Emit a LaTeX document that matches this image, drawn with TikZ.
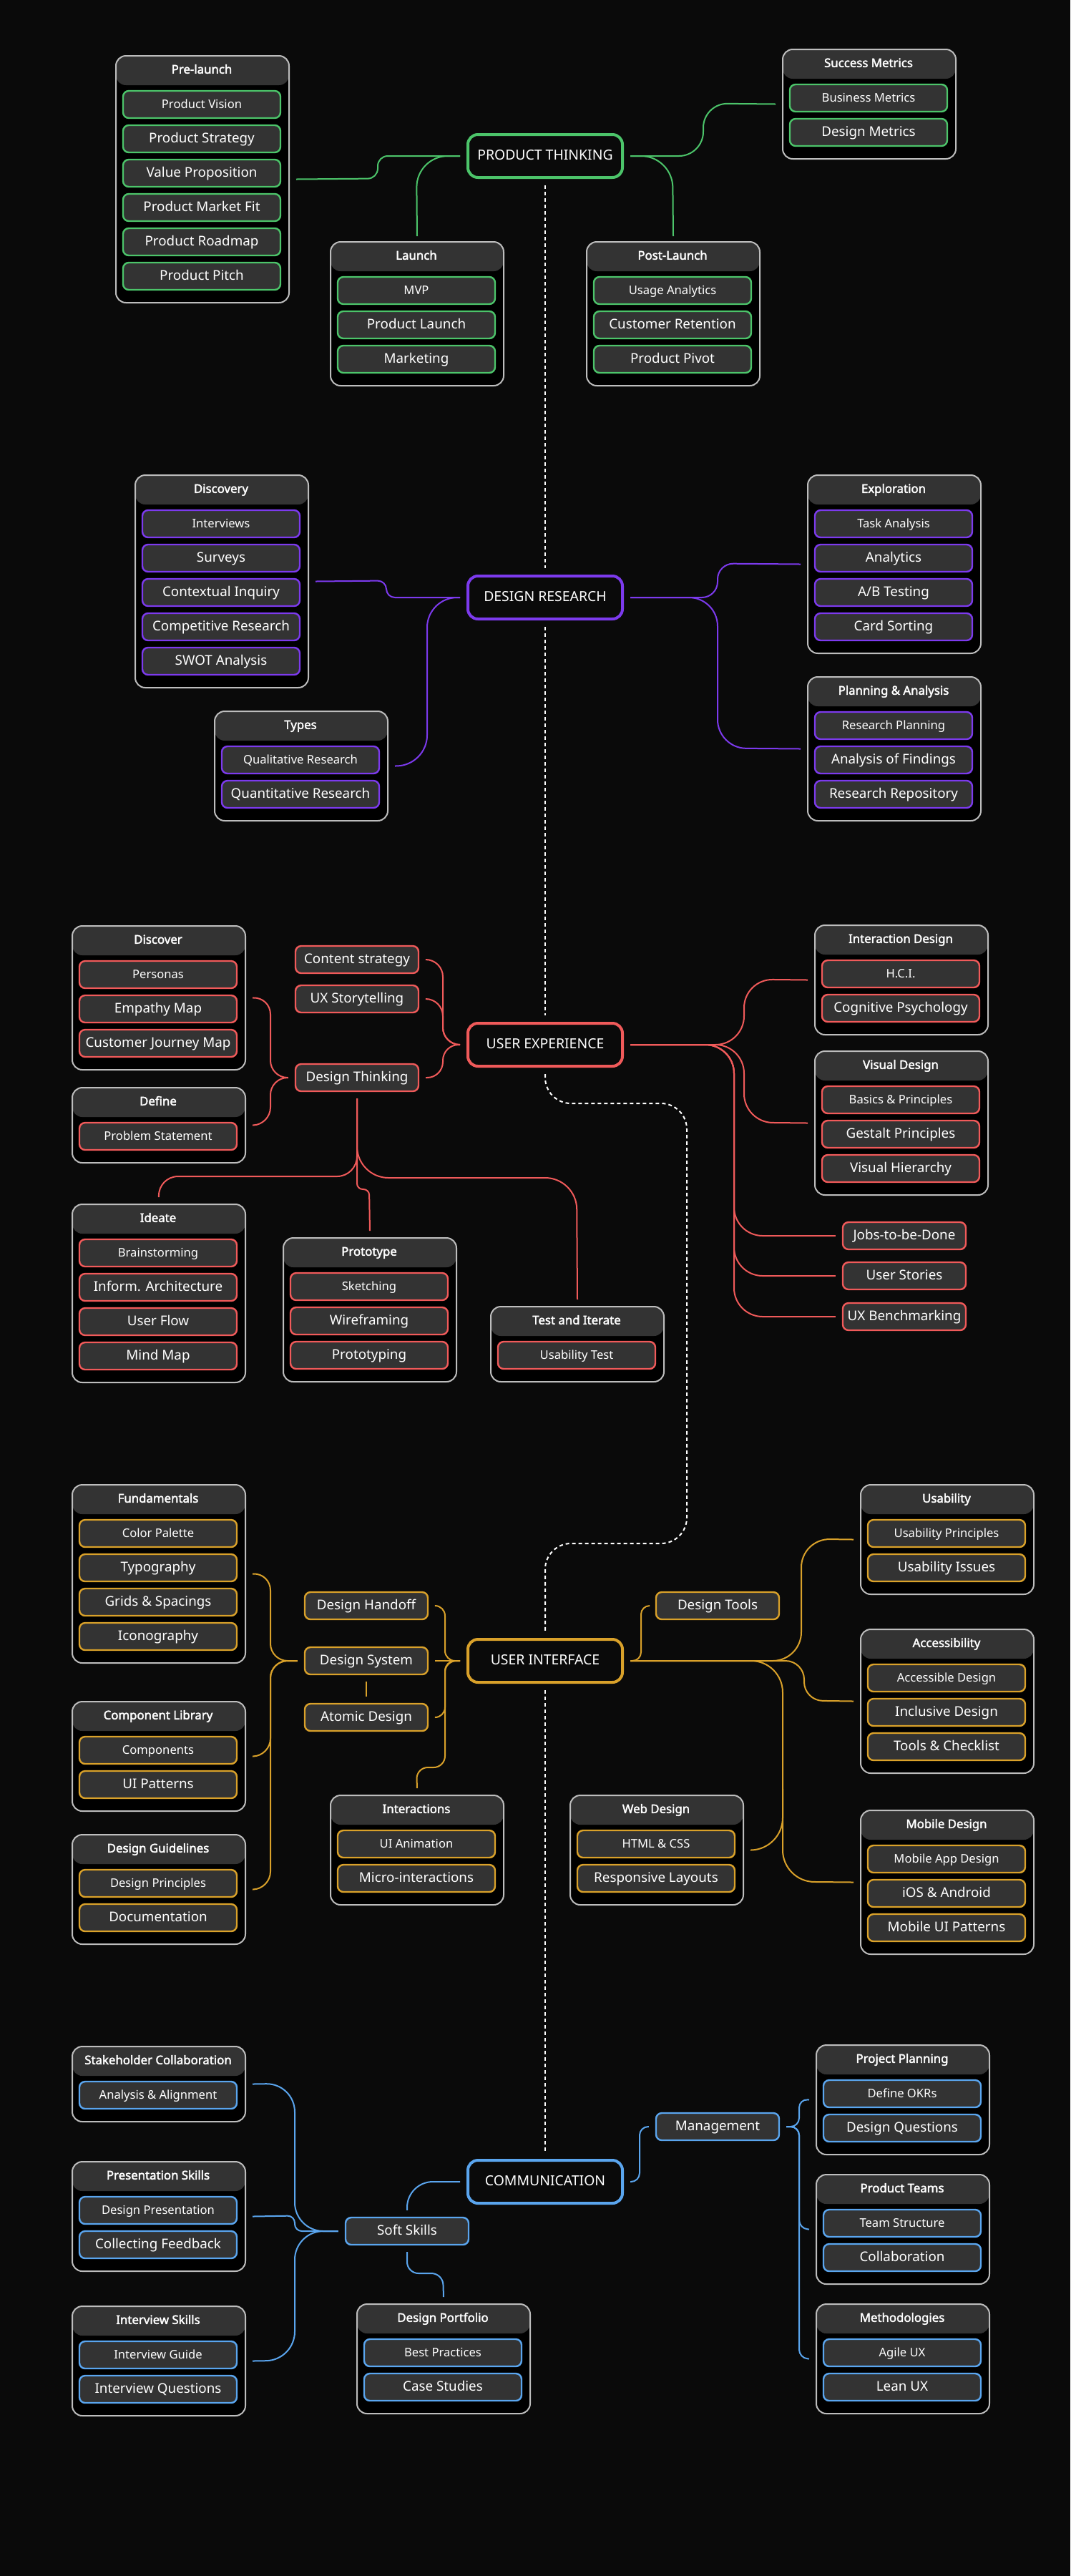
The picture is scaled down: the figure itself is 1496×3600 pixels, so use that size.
\documentclass[tikz,border=0pt]{standalone}
\usepackage{fontspec}
\setmainfont{Noto Sans}
\newfontfamily\tfont{Noto Sans}[FakeBold=2.2]
\definecolor{bgc}{HTML}{0A0A0A}
\definecolor{headc}{HTML}{333333}
\definecolor{itemc}{HTML}{333333}
\definecolor{cardline}{HTML}{BDBDBD}
\definecolor{cgreen}{HTML}{4CC46A}
\definecolor{cpurple}{HTML}{7C3AED}
\definecolor{cred}{HTML}{F05A5A}
\definecolor{cgold}{HTML}{D9A12A}
\definecolor{cblue}{HTML}{5AA5EE}
\tikzset{
  cardbox/.style={rectangle, rounded corners=7pt, draw=cardline, line width=1pt, fill=black, minimum width=121pt, inner sep=0pt,
    path picture={\fill[headc] (path picture bounding box.north west) rectangle ([yshift=-20.5pt]path picture bounding box.north east);}},
  cardtitle/.style={text=white, font=\tfont\fontsize{8.4}{9}\selectfont, inner sep=0pt, text height=0.75em, text depth=0.22em},
  itembox/.style={rectangle, rounded corners=4pt, draw=#1, line width=1.2pt, fill=itemc, minimum width=110pt, minimum height=19pt, inner sep=0pt, text=white, text height=0.75em, text depth=0.22em},
  smallf/.style={font=\fontsize{8.3}{9}\selectfont},
  largef/.style={font=\fontsize{9.4}{10}\selectfont},
  solo/.style={rectangle, rounded corners=4pt, draw=#1, line width=1.2pt, fill=itemc, minimum width=86pt, minimum height=19pt, inner sep=0pt, text=white, font=\fontsize{9.4}{10}\selectfont, text height=0.75em, text depth=0.22em},
  mainnode/.style={rectangle, rounded corners=7pt, draw=#1, line width=2pt, fill=bgc, minimum width=108pt, minimum height=30pt, inner sep=0pt, text=white, font=\fontsize{9.7}{11}\selectfont, text height=0.75em, text depth=0.22em},
  conn/.style={draw=#1, line width=1pt},
  spine/.style={draw=white, line width=1pt, dash pattern=on 2.5pt off 2pt},
}
% name, left, top, n items, colour, title, items
\newcommand\mkcard[7]{%
  \pgfmathsetmacro\cardh{(57+48*#4)*0.5}%
  \node[cardbox, minimum height=\cardh pt, anchor=north west] (#1) at (#2,#3) {};%
  \node[cardtitle] (#1-t) at (#2+121,#3+20.5) {#6};%
  \foreach [count=\i] \sz/\txt in {#7} {%
    \pgfmathsetmacro\iy{#3+69+48*(\i-1)}%
    \node[itembox=#5, \sz] (#1-\i) at (#2+121,\iy) {\txt};%
  }%
}
\begin{document}
\begin{tikzpicture}[x=0.5pt,y=-0.5pt]
\useasboundingbox (0,0) rectangle (1496,3600);
\fill[bgc] (0,0) rectangle (1496,3600);

% ---------- main nodes
\node[mainnode=cgreen] (pt) at (762,218) {PRODUCT THINKING};
\node[mainnode=cpurple] (dr) at (762,835) {DESIGN RESEARCH};
\node[mainnode=cred] (ux) at (762,1460) {USER EXPERIENCE};
\node[mainnode=cgold] (ui) at (762,2321) {USER INTERFACE};
\node[mainnode=cblue] (comm) at (762,3049) {COMMUNICATION};

% ---------- product thinking
\mkcard{pre}{161}{77}{6}{cgreen}{Pre-launch}{smallf/Product Vision, largef/Product Strategy, largef/Value Proposition, largef/Product Market Fit, largef/Product Roadmap, largef/Product Pitch}
\mkcard{sm}{1093}{68}{2}{cgreen}{Success Metrics}{smallf/Business Metrics, largef/Design Metrics}
\mkcard{launch}{461}{337}{3}{cgreen}{Launch}{smallf/MVP, largef/Product Launch, largef/Marketing}
\mkcard{post}{819}{337}{3}{cgreen}{Post-Launch}{smallf/Usage Analytics, largef/Customer Retention, largef/Product Pivot}

% ---------- design research
\mkcard{disc}{188}{663}{5}{cpurple}{Discovery}{smallf/Interviews, largef/Surveys, largef/Contextual Inquiry, largef/Competitive Research, largef/SWOT Analysis}
\mkcard{types}{299}{993}{2}{cpurple}{Types}{smallf/Qualitative Research, largef/Quantitative Research}
\mkcard{expl}{1128}{663}{4}{cpurple}{Exploration}{smallf/Task Analysis, largef/Analytics, largef/{A/B Testing}, largef/Card Sorting}
\mkcard{plan}{1128}{945}{3}{cpurple}{Planning \& Analysis}{smallf/Research Planning, largef/Analysis of Findings, largef/Research Repository}

% ---------- user experience
\mkcard{discover}{100}{1293}{3}{cred}{Discover}{smallf/Personas, largef/Empathy Map, largef/Customer Journey Map}
\mkcard{define}{100}{1519}{1}{cred}{Define}{smallf/Problem Statement}
\mkcard{ideate}{100}{1682}{4}{cred}{Ideate}{smallf/Brainstorming, largef/Inform. Architecture, largef/User Flow, largef/Mind Map}
\mkcard{proto}{395}{1729}{3}{cred}{Prototype}{smallf/Sketching, largef/Wireframing, largef/Prototyping}
\mkcard{test}{685}{1825}{1}{cred}{Test and Iterate}{smallf/Usability Test}
\mkcard{idesign}{1138}{1292}{2}{cred}{Interaction Design}{smallf/H.C.I., largef/Cognitive Psychology}
\mkcard{vdesign}{1138}{1468}{3}{cred}{Visual Design}{smallf/Basics \& Principles, largef/Gestalt Principles, largef/Visual Hierarchy}
\node[solo=cred] (cs) at (499,1341) {Content strategy};
\node[solo=cred] (uxs) at (499,1396) {UX Storytelling};
\node[solo=cred] (dt) at (499,1506) {Design Thinking};
\node[solo=cred] (jobs) at (1264,1727) {Jobs-to-be-Done};
\node[solo=cred] (stories) at (1264,1783) {User Stories};
\node[solo=cred] (bench) at (1264,1840) {UX Benchmarking};

% ---------- user interface
\mkcard{fund}{100}{2074}{4}{cgold}{Fundamentals}{smallf/Color Palette, largef/Typography, largef/Grids \& Spacings, largef/Iconography}
\mkcard{comp}{100}{2377}{2}{cgold}{Component Library}{smallf/Components, largef/UI Patterns}
\mkcard{guide}{100}{2563}{2}{cgold}{Design Guidelines}{smallf/Design Principles, largef/Documentation}
\mkcard{inter}{461}{2508}{2}{cgold}{Interactions}{smallf/UI Animation, largef/Micro-interactions}
\mkcard{web}{796}{2508}{2}{cgold}{Web Design}{smallf/HTML \& CSS, largef/Responsive Layouts}
\mkcard{usab}{1202}{2074}{2}{cgold}{Usability}{smallf/Usability Principles, largef/Usability Issues}
\mkcard{access}{1202}{2276}{3}{cgold}{Accessibility}{smallf/Accessible Design, largef/Inclusive Design, largef/Tools \& Checklist}
\mkcard{mobile}{1202}{2529}{3}{cgold}{Mobile Design}{smallf/Mobile App Design, largef/iOS \& Android, largef/Mobile UI Patterns}
\node[solo=cgold] (dh) at (512,2244) {Design Handoff};
\node[solo=cgold] (ds) at (512,2321) {Design System};
\node[solo=cgold] (ad) at (512,2400) {Atomic Design};
\node[solo=cgold] (dtools) at (1003,2244) {Design Tools};

% ---------- communication
\mkcard{stake}{100}{2859}{1}{cblue}{Stakeholder Collaboration}{smallf/Analysis \& Alignment}
\mkcard{pres}{100}{3020}{2}{cblue}{Presentation Skills}{smallf/Design Presentation, largef/Collecting Feedback}
\mkcard{intv}{100}{3222}{2}{cblue}{Interview Skills}{smallf/Interview Guide, largef/Interview Questions}
\mkcard{port}{498}{3219}{2}{cblue}{Design Portfolio}{smallf/Best Practices, largef/Case Studies}
\mkcard{pplan}{1140}{2857}{2}{cblue}{Project Planning}{smallf/Define OKRs, largef/Design Questions}
\mkcard{teams}{1140}{3038}{2}{cblue}{Product Teams}{smallf/Team Structure, largef/Collaboration}
\mkcard{meth}{1140}{3219}{2}{cblue}{Methodologies}{smallf/Agile UX, largef/Lean UX}
\node[solo=cblue] (ss) at (569,3118) {Soft Skills};
\node[solo=cblue] (mg) at (1003,2972) {Management};

% ---------- spine
\draw[spine] ([yshift=-4.5pt]pt.south) -- ([yshift=4.5pt]dr.north);
\draw[spine] ([yshift=-4.5pt]dr.south) -- ([yshift=4.5pt]ux.north);
\draw[spine, rounded corners=18pt] ([yshift=-4.5pt]ux.south) -- (762,1542) -- (960,1542) -- (960,2157) -- (762,2157) -- ([yshift=4.5pt]ui.north);
\draw[spine] ([yshift=-4.5pt]ui.south) -- ([yshift=4.5pt]comm.north);

% ---------- green connectors
\draw[conn=cgreen, rounded corners=7pt] ([xshift=-4.5pt]pt.west) -- (528,218) -- (528,249.5) -- ([xshift=4.5pt]pre.east);
\draw[conn=cgreen, rounded corners=22pt] ([xshift=-4.5pt]pt.west) -- (582,218) -- ([yshift=3.5pt]launch.north);
\draw[conn=cgreen, rounded corners=22pt] ([xshift=4.5pt]pt.east) -- (940,218) -- ([yshift=3.5pt]post.north);
\draw[conn=cgreen, rounded corners=17pt] ([xshift=4.5pt]pt.east) -- (983,218) -- (983,144.5) -- ([xshift=-4.5pt]sm.west);

% ---------- purple connectors
\draw[conn=cpurple, rounded corners=6pt] ([xshift=-4.5pt]dr.west) -- (540,835) -- (540,811.5) -- ([xshift=4.5pt]disc.east);
\draw[conn=cpurple, rounded corners=21pt] ([xshift=-4.5pt]dr.west) -- (597,835) -- (597,1069.5) -- ([xshift=4.5pt]types.east);
\draw[conn=cpurple, rounded corners=11pt] ([xshift=4.5pt]dr.east) -- (1003,835) -- (1003,787.5) -- ([xshift=-4.5pt]expl.west);
\draw[conn=cpurple, rounded corners=20pt] ([xshift=4.5pt]dr.east) -- (1003,835) -- (1003,1045.5) -- ([xshift=-4.5pt]plan.west);

% ---------- red connectors
\draw[conn=cred, rounded corners=12pt] ([xshift=4.5pt]cs.east) -- (619,1341) -- (619,1460) -- ([xshift=-4.5pt]ux.west);
\draw[conn=cred, rounded corners=12pt] ([xshift=4.5pt]uxs.east) -- (619,1396) -- (619,1460) -- ([xshift=-4.5pt]ux.west);
\draw[conn=cred, rounded corners=11pt] ([xshift=4.5pt]dt.east) -- (619,1506) -- (619,1460) -- ([xshift=-4.5pt]ux.west);
\draw[conn=cred, rounded corners=12pt] ([xshift=4.5pt]discover.east) -- (378,1393.5) -- (378,1506) -- ([xshift=-4.5pt]dt.west);
\draw[conn=cred, rounded corners=12pt] ([xshift=4.5pt]define.east) -- (378,1571.5) -- (378,1506) -- ([xshift=-4.5pt]dt.west);
\draw[conn=cred, rounded corners=14pt] ([yshift=-4.5pt]dt.south) -- (499,1644) -- (221,1644) -- ([yshift=4.5pt]ideate.north);
\draw[conn=cred, rounded corners=4pt] ([yshift=-4.5pt]dt.south) -- (499,1662) -- (516,1662) -- ([yshift=4.5pt]proto.north);
\draw[conn=cred, rounded corners=22pt] ([yshift=-4.5pt]dt.south) -- (499,1646) -- (806,1646) -- ([yshift=4.5pt]test.north);
\draw[conn=cred, rounded corners=20pt] ([xshift=4.5pt]ux.east) -- (1040,1460) -- (1040,1368.5) -- ([xshift=-4.5pt]idesign.west);
\draw[conn=cred, rounded corners=20pt] ([xshift=4.5pt]ux.east) -- (1040,1460) -- (1040,1568.5) -- ([xshift=-4.5pt]vdesign.west);
\draw[conn=cred, rounded corners=20pt] ([xshift=4.5pt]ux.east) -- (1026,1460) -- (1026,1727) -- ([xshift=-4.5pt]jobs.west);
\draw[conn=cred, rounded corners=20pt] ([xshift=4.5pt]ux.east) -- (1026,1460) -- (1026,1783) -- ([xshift=-4.5pt]stories.west);
\draw[conn=cred, rounded corners=20pt] ([xshift=4.5pt]ux.east) -- (1026,1460) -- (1026,1840) -- ([xshift=-4.5pt]bench.west);

% ---------- gold connectors
\draw[conn=cgold, rounded corners=7pt] ([xshift=4.5pt]dh.east) -- (622,2244) -- (622,2321) -- ([xshift=-4.5pt]ui.west);
\draw[conn=cgold] ([xshift=4.5pt]ds.east) -- ([xshift=-4.5pt]ui.west);
\draw[conn=cgold, rounded corners=7pt] ([xshift=4.5pt]ad.east) -- (622,2400) -- (622,2321) -- ([xshift=-4.5pt]ui.west);
\draw[conn=cgold, rounded corners=8pt] ([xshift=-4.5pt]ui.west) -- (622,2321) -- (622,2470) -- (582,2470) -- ([yshift=4.5pt]inter.north);
\draw[conn=cgold] ([yshift=-4.5pt]ds.south) -- ([yshift=4.5pt]ad.north);
\draw[conn=cgold, rounded corners=12pt] ([xshift=4.5pt]fund.east) -- (378,2198.5) -- (378,2321) -- ([xshift=-4.5pt]ds.west);
\draw[conn=cgold, rounded corners=12pt] ([xshift=4.5pt]comp.east) -- (378,2453.5) -- (378,2321) -- ([xshift=-4.5pt]ds.west);
\draw[conn=cgold, rounded corners=12pt] ([xshift=4.5pt]guide.east) -- (378,2639.5) -- (378,2321) -- ([xshift=-4.5pt]ds.west);
\draw[conn=cgold, rounded corners=6pt] ([xshift=4.5pt]ui.east) -- (896,2321) -- (896,2244) -- ([xshift=-4.5pt]dtools.west);
\draw[conn=cgold, rounded corners=20pt] ([xshift=4.5pt]ui.east) -- (1120,2321) -- (1120,2150.5) -- ([xshift=-4.5pt]usab.west);
\draw[conn=cgold, rounded corners=13pt] ([xshift=4.5pt]ui.east) -- (1124,2321) -- (1124,2376.5) -- ([xshift=-4.5pt]access.west);
\draw[conn=cgold, rounded corners=22pt] ([xshift=4.5pt]ui.east) -- (1094,2321) -- (1094,2629.5) -- ([xshift=-4.5pt]mobile.west);
\draw[conn=cgold, rounded corners=22pt] ([xshift=4.5pt]web.east) -- (1094,2584.5) -- (1094,2500);

% ---------- blue connectors
\draw[conn=cblue, rounded corners=18pt] ([xshift=-4.5pt]comm.west) -- (569,3049) -- ([yshift=4.5pt]ss.north);
\draw[conn=cblue, rounded corners=8pt] ([yshift=-4.5pt]ss.south) -- (569,3177) -- (619,3177) -- ([yshift=4.5pt]port.north);
\draw[conn=cblue, rounded corners=20pt] ([xshift=4.5pt]stake.east) -- (412,2911.5) -- (412,3118) -- ([xshift=-4.5pt]ss.west);
\draw[conn=cblue, rounded corners=5pt] ([xshift=4.5pt]pres.east) -- (412,3096.5) -- (412,3118) -- ([xshift=-4.5pt]ss.west);
\draw[conn=cblue, rounded corners=20pt] ([xshift=4.5pt]intv.east) -- (412,3298.5) -- (412,3118) -- ([xshift=-4.5pt]ss.west);
\draw[conn=cblue, rounded corners=6pt] ([xshift=4.5pt]comm.east) -- (894,3049) -- (894,2972) -- ([xshift=-4.5pt]mg.west);
\draw[conn=cblue, rounded corners=6pt] ([xshift=4.5pt]mg.east) -- (1117,2972) -- (1117,2933.5) -- ([xshift=-4.5pt]pplan.west);
\draw[conn=cblue, rounded corners=6pt] ([xshift=4.5pt]mg.east) -- (1117,2972) -- (1117,3114.5) -- ([xshift=-4.5pt]teams.west);
\draw[conn=cblue, rounded corners=6pt] ([xshift=4.5pt]mg.east) -- (1117,2972) -- (1117,3295.5) -- ([xshift=-4.5pt]meth.west);
\end{tikzpicture}
\end{document}
